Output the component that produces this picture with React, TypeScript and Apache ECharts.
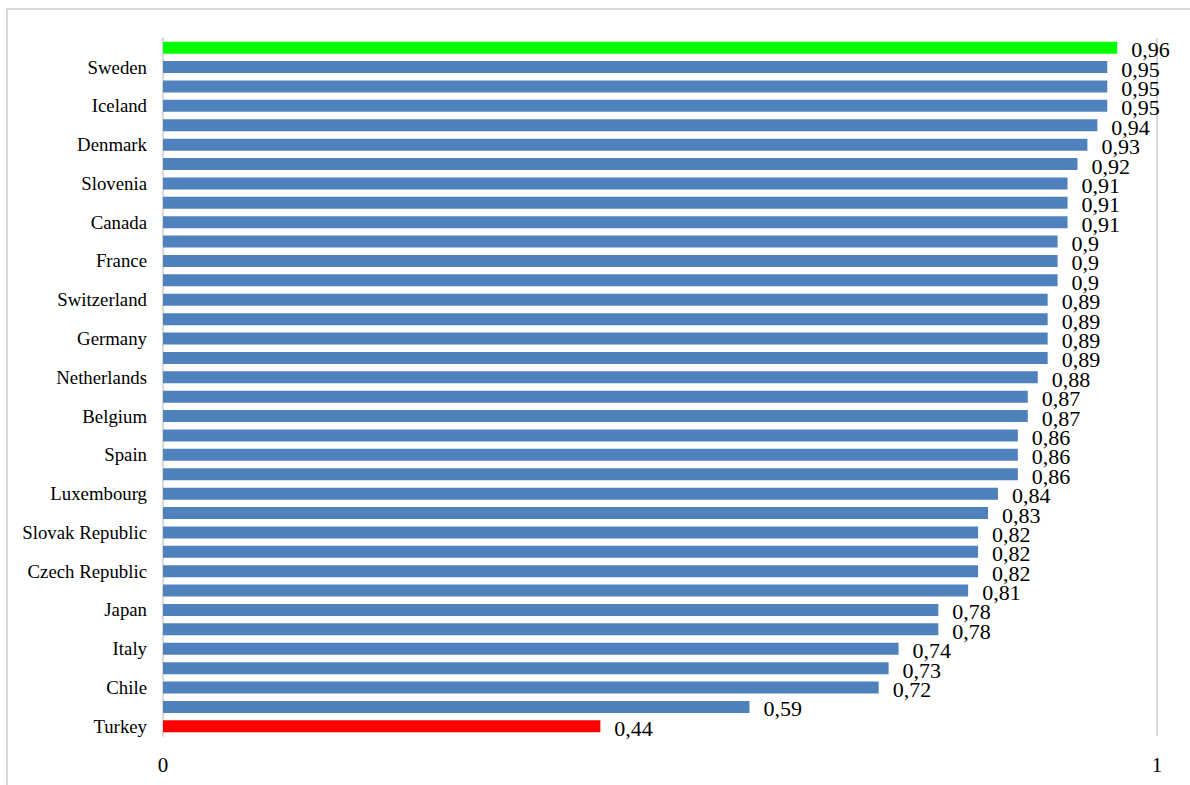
import React, { useEffect, useRef } from "react";
import * as echarts from "echarts";

// Country labels (only every second row carries a visible name)
const countries: string[] = [
  "", "Sweden", "", "Iceland", "", "Denmark", "", "Slovenia", "", "Canada",
  "", "France", "", "Switzerland", "", "Germany", "", "Netherlands", "", "Belgium",
  "", "Spain", "", "Luxembourg", "", "Slovak Republic", "", "Czech Republic", "", "Japan",
  "", "Italy", "", "Chile", "", "Turkey",
];

const values: number[] = [
  0.96, 0.95, 0.95, 0.95, 0.94, 0.93, 0.92, 0.91, 0.91, 0.91,
  0.9, 0.9, 0.9, 0.89, 0.89, 0.89, 0.89, 0.88, 0.87, 0.87,
  0.86, 0.86, 0.86, 0.84, 0.83, 0.82, 0.82, 0.82, 0.81, 0.78,
  0.78, 0.74, 0.73, 0.72, 0.59, 0.44,
];

const BLUE = "#4F81BD";
const TOP_COLOR = "#00FF00";
const BOTTOM_COLOR = "#FF0000";

export default function App() {
  const ref = useRef<HTMLDivElement>(null);

  useEffect(() => {
    if (!ref.current) return;
    const chart = echarts.init(ref.current, undefined, { renderer: "svg" });
    const last = values.length - 1;
    chart.setOption({
      animation: false,
      backgroundColor: "#ffffff",
      textStyle: { fontFamily: "Liberation Serif" },
      graphic: [
        {
          type: "rect",
          shape: { x: 7, y: 9, width: 1200, height: 800 },
          style: { fill: "none", stroke: "#d9d9d9", lineWidth: 2 },
          silent: true,
        },
      ],
      grid: { left: 163, top: 38, width: 994, height: 698, containLabel: false },
      xAxis: {
        type: "value",
        min: 0,
        max: 1,
        interval: 1,
        axisLine: { show: false },
        axisTick: { show: false },
        axisLabel: {
          color: "#000",
          fontSize: 21,
          fontFamily: "Liberation Serif",
          margin: 18,
        },
        splitLine: { show: true, lineStyle: { color: "#d9d9d9", width: 2 } },
      },
      yAxis: {
        type: "category",
        inverse: true,
        data: countries,
        axisLine: { show: true, lineStyle: { color: "#d9d9d9", width: 2 } },
        axisTick: { show: false },
        axisLabel: {
          interval: 0,
          color: "#000",
          fontSize: 18.8,
          fontFamily: "Liberation Serif",
          margin: 16,
        },
      },
      series: [
        {
          type: "bar",
          barWidth: 12,
          data: values.map((v, i) => ({
            value: v,
            itemStyle: {
              color: i === 0 ? TOP_COLOR : i === last ? BOTTOM_COLOR : BLUE,
            },
          })),
          label: {
            show: true,
            position: "right",
            distance: 14,
            color: "#000",
            fontSize: 22,
            fontFamily: "Liberation Serif",
            offset: [0, 2],
            formatter: (p: any) => String(p.value).replace(".", ","),
          },
        },
      ],
    });
    return () => chart.dispose();
  }, []);

  return (
    <div
      ref={ref}
      style={{ position: "absolute", left: 0, top: 0, width: 1190, height: 785 }}
    />
  );
}
